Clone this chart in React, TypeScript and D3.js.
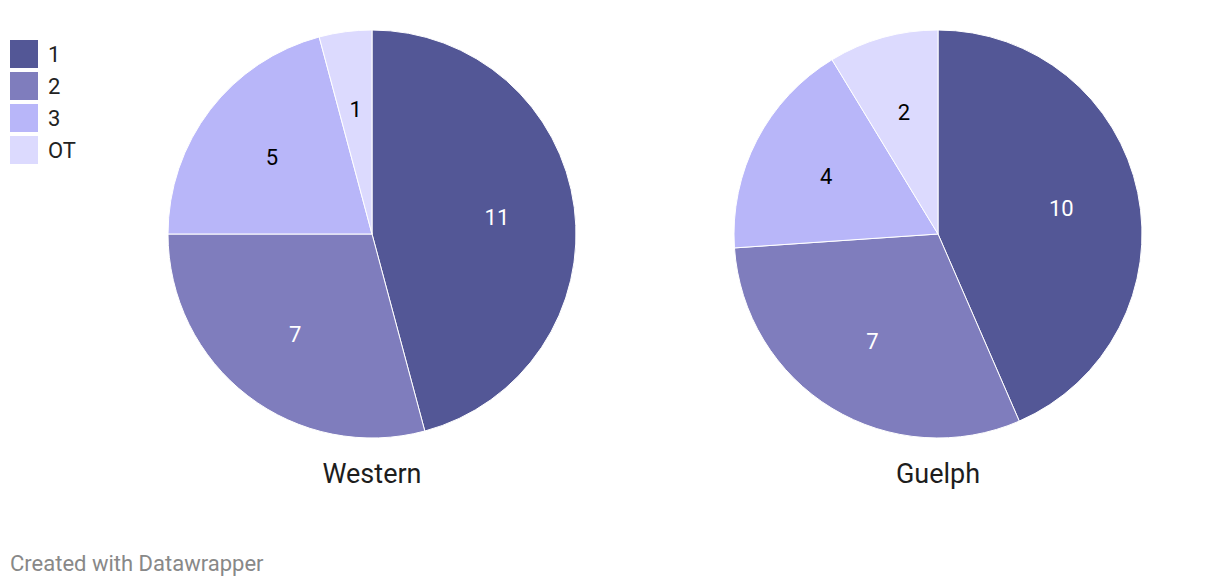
import React from "react";
import * as d3 from "d3";

const categories = ["1", "2", "3", "OT"];
const colors = ["#535796", "#7f7dbd", "#b8b6f9", "#dcdafe"];
const labelColors = ["#ffffff", "#ffffff", "#000000", "#000000"];
const westernValues = [11, 7, 5, 1];
const guelphValues = [10, 7, 4, 2];
const charts = [
  { title: "Western", values: westernValues, cx: 372 },
  { title: "Guelph", values: guelphValues, cx: 938 },
];

const W = 1220;
const H = 586;
const R = 204;
const CY = 234;

export default function App() {
  const pie = d3.pie<number>().sort(null).value((d) => d);
  const arc = d3.arc<d3.PieArcDatum<number>>().innerRadius(0).outerRadius(R);
  const font = "Roboto, 'Noto Sans', sans-serif";
  return (
    <svg
      width={W}
      height={H}
      style={{ position: "absolute", left: 0, top: 0, fontFamily: font }}
    >
      <rect width={W} height={H} fill="#ffffff" />
      {categories.map((c, i) => (
        <g key={c}>
          <rect x={10} y={40 + i * 32} width={28} height={28} fill={colors[i]} />
          <text x={48} y={54 + i * 32} dy="0.35em" fontSize={22} fill="#222">
            {c}
          </text>
        </g>
      ))}
      {charts.map((ch) => {
        const arcs = pie(ch.values);
        return (
          <g key={ch.title} transform={`translate(${ch.cx},${CY})`}>
            {arcs.map((a, i) => (
              <path key={i} d={arc(a) || ""} fill={colors[i]} stroke="#ffffff" strokeWidth={1} />
            ))}
            {arcs.map((a, i) => {
              const mid = (a.startAngle + a.endAngle) / 2;
              const r = 126;
              const x = Math.sin(mid) * r;
              const y = -Math.cos(mid) * r;
              return (
                <text
                  key={"l" + i}
                  x={x}
                  y={y}
                  dy="0.35em"
                  textAnchor="middle"
                  fontSize={22}
                  fill={labelColors[i]}
                >
                  {a.data}
                </text>
              );
            })}
            <text x={0} y={240} dy="0.35em" textAnchor="middle" fontSize={27} fill="#1d1d1d">
              {ch.title}
            </text>
          </g>
        );
      })}
      <text x={10} y={563} dy="0.35em" fontSize={22} fill="#888888">
        Created with Datawrapper
      </text>
    </svg>
  );
}
